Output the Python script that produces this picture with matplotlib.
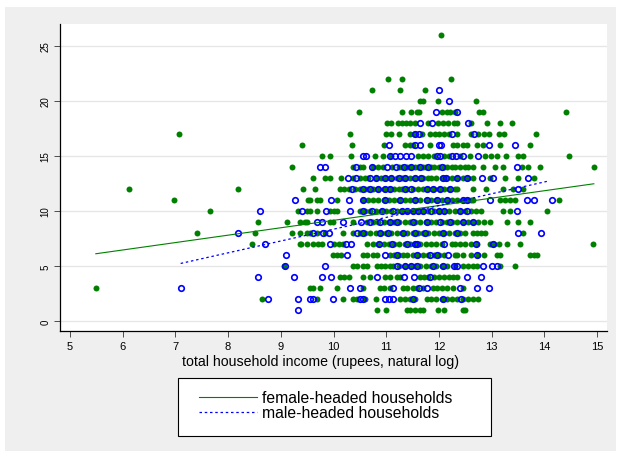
import numpy as np
import matplotlib
matplotlib.use("Agg")
import matplotlib.pyplot as plt
from matplotlib.patches import Rectangle

plt.rcParams['font.family'] = ['Liberation Sans', 'DejaVu Sans']

# x values (log income) of points at each integer y level
female = {
    26: [12.04],
    22: [11.03, 11.30, 12.23],
    21: [10.73, 11.26, 11.74],
    20: [11.65, 11.70, 11.98, 12.70],
    19: [10.48, 11.30, 11.47, 11.58, 11.63, 12.06, 12.15, 12.22, 12.30, 12.76, 12.84, 14.41],
    18: [11.02, 11.10, 11.22, 11.30, 11.38, 11.45, 11.55, 11.80, 11.98, 12.08, 12.18, 12.28,
         12.35, 12.61, 12.92, 13.16, 13.39],
    17: [7.07, 10.31, 11.00, 11.10, 11.24, 11.45, 11.52, 11.68, 11.83, 11.92, 12.00, 12.10,
         12.20, 12.34, 12.60, 12.75, 12.85, 12.95, 13.14, 13.24, 13.84],
    16: [9.40, 10.35, 10.96, 11.36, 11.45, 11.50, 11.83, 12.27, 12.35, 12.45, 12.53, 12.72,
         12.84, 13.16, 13.73],
    15: [9.78, 9.93, 10.33, 10.79, 10.94, 11.10, 11.60, 11.70, 11.80, 11.90, 12.10, 12.20,
         12.40, 12.59, 12.88, 12.99, 13.10, 13.27, 13.50, 13.60, 14.47],
    14: [9.21, 10.37, 10.50, 10.56, 10.75, 10.85, 10.94, 11.11, 11.25, 11.30, 11.40, 11.45,
         11.55, 11.60, 11.70, 11.75, 11.85, 11.90, 12.00, 12.10, 12.15, 12.25, 12.30, 12.40,
         12.50, 12.55, 12.65, 12.84, 13.06, 13.22, 13.58, 13.69, 13.92, 14.94],
    13: [9.61, 9.84, 9.93, 10.14, 10.37, 10.50, 10.60, 10.65, 10.80, 10.90, 11.00, 11.10,
         11.20, 11.30, 11.35, 11.45, 11.55, 11.65, 11.70, 11.80, 11.85, 11.95, 12.05, 12.15,
         12.25, 12.35, 12.45, 12.55, 12.65, 12.97, 13.25, 13.50, 13.80],
    12: [6.12, 8.19, 9.42, 9.65, 10.12, 10.20, 10.30, 10.40, 10.50, 10.60, 10.65, 10.75,
         10.85, 10.95, 11.05, 11.15, 11.25, 11.30, 11.40, 11.50, 11.60, 11.70, 11.80, 11.90,
         12.00, 12.10, 12.20, 12.30, 12.34, 12.65, 12.90, 13.22, 13.41, 13.60],
    11: [6.97, 9.52, 9.55, 9.68, 9.74, 10.07, 10.56, 10.65, 10.75, 10.85, 10.95, 11.05,
         11.15, 11.25, 11.35, 11.45, 11.55, 11.65, 11.75, 11.85, 11.95, 12.05, 12.15, 12.25,
         12.35, 12.45, 12.55, 12.60, 12.65, 13.16, 13.25, 13.35, 13.45, 14.28],
    10: [7.65, 9.32, 9.50, 9.55, 9.69, 9.93, 10.00, 10.07, 10.50, 10.60, 10.70, 10.80,
         10.90, 11.00, 11.10, 11.20, 11.30, 11.40, 11.50, 11.60, 11.70, 11.80, 11.90, 12.00,
         12.10, 12.20, 12.30, 12.40, 12.50, 12.60, 12.70, 12.80, 13.22, 13.35, 14.05],
    9: [8.56, 9.12, 9.36, 9.45, 9.50, 9.93, 9.99, 10.37, 10.64, 10.75, 10.85, 10.95, 11.05,
        11.15, 11.25, 11.35, 11.45, 11.55, 11.65, 11.75, 11.85, 11.95, 12.05, 12.15, 12.25,
        12.35, 12.45, 12.55, 12.65, 12.75, 12.85, 12.97, 13.29, 13.50, 13.73],
    8: [7.41, 8.51, 9.21, 9.36, 9.50, 9.55, 9.69, 9.84, 10.18, 10.37, 10.50, 10.60, 10.70,
        10.80, 10.90, 11.00, 11.10, 11.20, 11.30, 11.40, 11.50, 11.60, 11.70, 11.80, 11.90,
        12.00, 12.10, 12.20, 12.30, 12.40, 12.50, 12.65, 12.72, 12.80, 12.88, 13.60],
    7: [8.45, 9.36, 9.38, 9.50, 9.61, 9.70, 9.78, 10.00, 10.10, 10.18, 10.64, 10.75, 10.85,
        10.95, 11.05, 11.15, 11.25, 11.35, 11.45, 11.55, 11.65, 11.75, 11.85, 11.95, 12.05,
        12.25, 12.30, 12.40, 12.50, 12.60, 12.72, 12.97, 13.05, 13.15, 13.29, 13.54, 14.93],
    6: [9.99, 10.07, 10.15, 10.56, 10.64, 10.75, 10.83, 11.07, 11.15, 11.25, 11.32, 11.39,
        11.50, 11.60, 11.70, 11.80, 11.90, 12.00, 12.10, 12.30, 12.35, 12.45, 12.60, 12.75,
        12.85, 13.10, 13.16, 13.73, 13.80, 13.86],
    5: [9.06, 10.37, 10.45, 10.56, 10.64, 10.83, 10.90, 10.98, 11.07, 11.13, 11.25, 11.35,
        11.45, 11.55, 11.65, 11.75, 11.85, 11.95, 12.05, 12.15, 12.30, 12.45, 12.55, 12.65,
        12.72, 13.16, 13.45],
    4: [10.12, 10.20, 10.30, 10.56, 10.69, 10.98, 11.07, 11.20, 11.26, 11.65, 11.72, 11.80,
        11.90, 12.00, 12.10, 12.20, 12.27, 12.34],
    3: [5.49, 9.55, 9.61, 9.74, 10.07, 10.56, 10.88, 10.95, 11.07, 11.32, 11.40, 11.50,
        11.58, 11.70, 11.89, 11.96, 12.05, 12.15, 12.27, 12.46],
    2: [8.64, 9.69, 10.18, 10.37, 10.45, 10.60, 10.80, 11.26, 11.35, 11.45, 11.55, 11.77,
        11.85, 11.95, 12.05, 12.15, 12.25, 12.35, 12.45, 12.55, 12.65, 12.75],
    1: [10.83, 11.00, 11.40, 11.45, 11.55, 11.64, 11.70, 11.98, 12.10, 12.46, 12.50],
}

male = {
    21: [12.00],
    20: [12.19],
    19: [11.95, 12.34],
    18: [11.64, 11.87, 12.55],
    17: [11.55, 11.63, 12.25, 12.67],
    16: [11.05, 11.55, 11.64, 12.00, 12.04, 12.95, 13.44],
    15: [10.56, 10.62, 11.07, 11.17, 11.27, 11.37, 11.47, 11.97, 12.02, 12.25, 12.33,
         12.45, 12.74],
    14: [9.75, 9.84, 10.43, 10.73, 11.02, 11.19, 11.34, 11.47, 11.64, 11.80, 12.06, 13.48],
    13: [10.27, 10.43, 10.69, 10.80, 10.98, 11.10, 11.25, 11.36, 11.55, 11.66, 12.07,
         12.13, 12.34, 12.53, 12.82, 13.03, 13.69],
    12: [10.35, 10.56, 10.69, 10.85, 10.98, 11.07, 11.36, 11.47, 11.77, 11.89, 12.02,
         12.21, 13.50],
    11: [9.27, 9.95, 10.29, 10.56, 10.98, 11.26, 11.55, 11.77, 11.96, 12.15, 12.46, 12.53,
         12.97, 13.67, 13.80, 14.15],
    10: [8.60, 9.40, 9.86, 10.31, 10.56, 10.73, 10.92, 11.13, 11.30, 11.40, 11.50, 11.60,
         11.70, 11.85, 12.00, 12.10, 12.40, 12.53, 13.48],
    9: [9.69, 9.78, 10.18, 10.52, 10.69, 10.88, 11.07, 11.20, 11.51, 11.77, 12.02, 12.21,
        12.46, 12.65],
    8: [8.19, 9.61, 9.80, 9.92, 10.45, 10.56, 10.88, 11.03, 11.32, 11.55, 11.74, 12.08,
        12.34, 13.50, 13.93],
    7: [8.70, 9.93, 10.24, 10.33, 10.86, 11.11, 11.39, 11.55, 11.58, 12.10, 12.70, 13.03],
    6: [9.10, 10.26, 10.98, 11.20, 11.58, 11.83, 11.96, 12.17, 12.72],
    5: [9.08, 9.84, 11.20, 11.36, 11.47, 11.58, 11.89, 12.08, 12.28, 12.34, 12.84, 13.00,
        13.10],
    4: [8.57, 9.25, 9.78, 9.95, 10.83, 11.34, 11.53, 11.83, 12.53, 12.80],
    3: [7.10, 10.31, 10.50, 11.13, 11.62, 11.77, 12.40, 12.72, 12.95],
    2: [8.75, 9.32, 9.55, 9.61, 9.99, 10.50, 10.56, 10.98, 11.05, 11.13, 11.51, 12.08, 12.42],
    1: [9.33],
}

# linear fit lines (endpoints)
fit_f_x = [5.49, 14.94]
fit_f_y = [6.12, 12.48]
fit_m_x = [7.10, 14.10]
fit_m_y = [5.24, 12.75]

xticks = [5, 6, 7, 8, 9, 10, 11, 12, 13, 14, 15]
yticks = [0, 5, 10, 15, 20, 25]


def flatten(d):
    xs, ys = [], []
    for lev, vals in d.items():
        xs += vals
        ys += [lev] * len(vals)
    return np.array(xs), np.array(ys)


fx, fy = flatten(female)
mx, my = flatten(male)

W, H = 618, 452
fig = plt.figure(figsize=(W / 100, H / 100), dpi=100)
fig.patch.set_facecolor('white')
fig.patches.append(Rectangle((5 / W, 0), 611 / W, (H - 8) / H, transform=fig.transFigure,
                             facecolor='#efefef', edgecolor='none', zorder=-10))

ax = fig.add_axes([60 / W, 1 - 332 / H, 547 / W, 307 / H])
ax.set_facecolor('white')

for y in yticks:
    ax.axhline(y, color='#e6e6e6', lw=1.0, zorder=0)

ax.plot(fx, fy, 'o', color='#008000', ms=4.3, mec='none', zorder=2)
ax.plot(mx, my, 'o', mfc='none', mec='#0000ff', ms=4.0, mew=1.2, zorder=3)
lf, = ax.plot(fit_f_x, fit_f_y, '-', color='#008000', lw=0.8, zorder=4)
lm, = ax.plot(fit_m_x, fit_m_y, color='#0000ff', lw=0.9, ls=(0, (2, 2.2)), zorder=4)

ax.set_xlim(4.81, 15.19)
ax.set_ylim(-0.9, 27.0)
ax.set_xticks(xticks)
ax.set_yticks(yticks)
ax.tick_params(axis='x', labelsize=8, length=4, width=0.6, color='#333333', pad=3.5)
ax.tick_params(axis='y', labelsize=7, length=4, width=0.6, color='#333333', pad=3,
               labelrotation=90)
for lab in ax.get_yticklabels():
    lab.set_verticalalignment('center')

for s in ['top', 'right']:
    ax.spines[s].set_visible(False)
ax.spines['left'].set_linewidth(0.9)
ax.spines['bottom'].set_linewidth(0.9)

ax.set_xlabel('total household income (rupees, natural log)', fontsize=10.2)
ax.xaxis.set_label_coords((320 - 60) / 547, -(362 - 332) / 307)
ax.xaxis.label.set_verticalalignment('center')

# legend box
fig.patches.append(Rectangle((178 / W, 1 - 437 / H), 313 / W, 58 / H, transform=fig.transFigure,
                             facecolor='white', edgecolor='black', lw=0.8, zorder=1))
fig.legend([lf, lm], ['female-headed households', 'male-headed households'],
           loc='upper left', bbox_to_anchor=(199 / W, 1 - 391 / H), frameon=False,
           fontsize=11.3, handlelength=3.7, handletextpad=0.3, labelspacing=0.0,
           borderpad=0.0, borderaxespad=0.0)

fig.savefig('out.png', dpi=100, facecolor=fig.get_facecolor())
